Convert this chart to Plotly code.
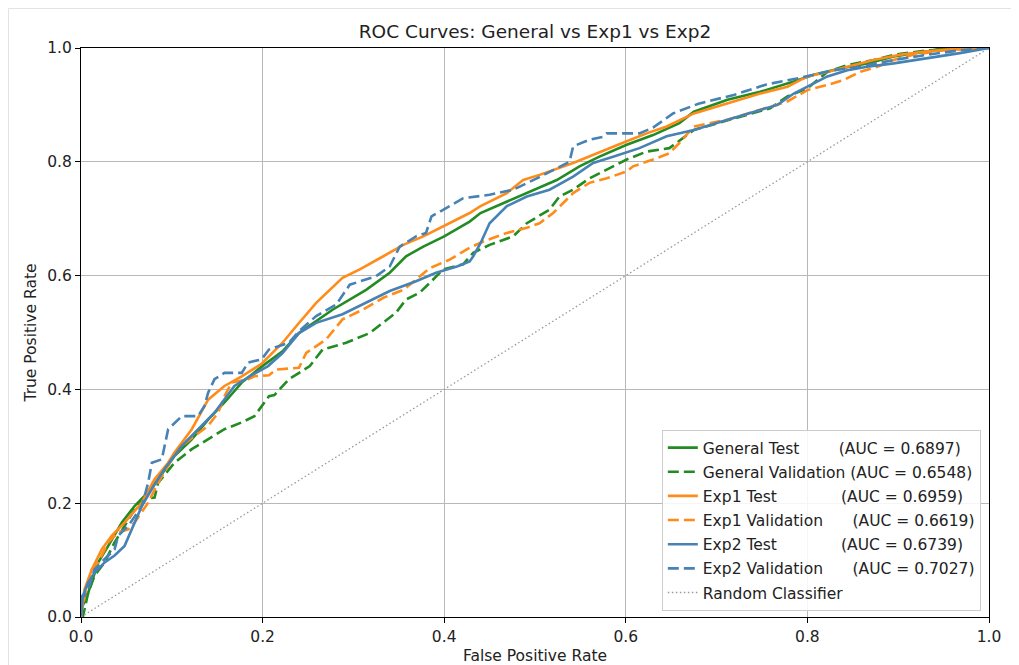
import plotly.graph_objects as go

# ---------------- data ----------------
gen_test_fpr = [0, 0.002, 0.008, 0.019, 0.03, 0.045, 0.059, 0.07, 0.085, 0.103, 0.122, 0.14, 0.158, 0.177,
                0.199, 0.222, 0.24, 0.277, 0.314, 0.34, 0.358, 0.377, 0.4, 0.428, 0.44, 0.469, 0.498, 0.524,
                0.549, 0.571, 0.601, 0.63, 0.659, 0.675, 0.712, 0.748, 0.785, 0.807, 0.836, 0.866, 0.895,
                0.932, 0.95, 1.0]
gen_test_tpr = [0, 0.02, 0.043, 0.096, 0.125, 0.166, 0.195, 0.213, 0.242, 0.283, 0.312, 0.347, 0.377, 0.412,
                0.44, 0.467, 0.499, 0.540, 0.575, 0.605, 0.634, 0.651, 0.669, 0.695, 0.71, 0.730, 0.751, 0.768,
                0.792, 0.809, 0.83, 0.847, 0.868, 0.888, 0.909, 0.923, 0.941, 0.953, 0.964, 0.973, 0.985,
                0.994, 1.0, 1.0]

gen_val_fpr = [0, 0.002, 0.008, 0.015, 0.026, 0.037, 0.048, 0.059, 0.067, 0.081, 0.085, 0.103, 0.122, 0.14,
               0.158, 0.177, 0.191, 0.207, 0.213, 0.229, 0.252, 0.266, 0.292, 0.318, 0.333, 0.347, 0.358, 0.373,
               0.384, 0.399, 0.421, 0.432, 0.45, 0.476, 0.491, 0.516, 0.527, 0.542, 0.56, 0.579, 0.601, 0.623,
               0.648, 0.675, 0.73, 0.759, 0.778, 0.8, 0.822, 0.844, 0.873, 0.895, 0.932, 1.0]
gen_val_tpr = [0, 0.0, 0.043, 0.073, 0.096, 0.131, 0.16, 0.189, 0.207, 0.21, 0.236, 0.271, 0.295, 0.312,
               0.330, 0.342, 0.353, 0.388, 0.39, 0.418, 0.441, 0.470, 0.482, 0.499, 0.517, 0.535, 0.558, 0.570,
               0.587, 0.611, 0.62, 0.64, 0.654, 0.669, 0.692, 0.716, 0.739, 0.751, 0.771, 0.786, 0.804, 0.818,
               0.824, 0.856, 0.88, 0.894, 0.915, 0.929, 0.958, 0.97, 0.979, 0.988, 0.996, 1.0]

exp1_test_fpr = [0, 0.004, 0.012, 0.023, 0.034, 0.048, 0.067, 0.081, 0.096, 0.103, 0.122, 0.14, 0.158, 0.177,
                 0.199, 0.222, 0.237, 0.259, 0.288, 0.307, 0.333, 0.355, 0.377, 0.4, 0.428, 0.44, 0.469, 0.487,
                 0.505, 0.542, 0.579, 0.601, 0.623, 0.645, 0.675, 0.712, 0.748, 0.778, 0.8, 0.822, 0.844, 0.873,
                 0.902, 0.932, 0.96, 1.0]
exp1_test_tpr = [0, 0.049, 0.084, 0.119, 0.143, 0.166, 0.201, 0.242, 0.271, 0.289, 0.330, 0.382, 0.406, 0.423,
                 0.445, 0.482, 0.511, 0.552, 0.596, 0.611, 0.634, 0.654, 0.669, 0.687, 0.71, 0.722, 0.745, 0.768,
                 0.777, 0.798, 0.821, 0.836, 0.85, 0.862, 0.885, 0.903, 0.92, 0.932, 0.95, 0.958, 0.967, 0.979,
                 0.988, 0.994, 0.998, 1.0]

exp1_val_fpr = [0, 0.001, 0.008, 0.012, 0.019, 0.03, 0.041, 0.052, 0.059, 0.067, 0.074, 0.085, 0.1, 0.111,
                0.125, 0.14, 0.151, 0.158, 0.166, 0.184, 0.191, 0.207, 0.215, 0.24, 0.248, 0.27, 0.288, 0.31,
                0.333, 0.355, 0.369, 0.384, 0.406, 0.428, 0.443, 0.469, 0.491, 0.505, 0.52, 0.542, 0.56, 0.579,
                0.601, 0.608, 0.63, 0.648, 0.659, 0.675, 0.712, 0.748, 0.778, 0.8, 0.822, 0.84, 0.858, 0.877,
                0.895, 0.917, 0.95, 1.0]
exp1_val_tpr = [0, 0.014, 0.061, 0.084, 0.096, 0.131, 0.149, 0.154, 0.166, 0.184, 0.201, 0.236, 0.277, 0.301,
                0.318, 0.336, 0.359, 0.388, 0.412, 0.418, 0.423, 0.425, 0.435, 0.438, 0.464, 0.488, 0.523, 0.540,
                0.561, 0.575, 0.593, 0.613, 0.628, 0.649, 0.66, 0.675, 0.684, 0.692, 0.71, 0.745, 0.763, 0.771,
                0.783, 0.792, 0.804, 0.815, 0.833, 0.862, 0.874, 0.891, 0.906, 0.926, 0.935, 0.944, 0.958, 0.967,
                0.979, 0.988, 0.996, 1.0]

exp2_test_fpr = [0, 0.002, 0.008, 0.015, 0.026, 0.037, 0.048, 0.059, 0.067, 0.078, 0.092, 0.111, 0.133, 0.147,
                 0.169, 0.188, 0.206, 0.222, 0.24, 0.259, 0.288, 0.314, 0.34, 0.369, 0.391, 0.414, 0.428, 0.432,
                 0.44, 0.45, 0.469, 0.491, 0.516, 0.542, 0.564, 0.586, 0.615, 0.645, 0.675, 0.712, 0.741, 0.767,
                 0.785, 0.8, 0.822, 0.844, 0.866, 0.895, 0.932, 0.968, 1.0]
exp2_test_tpr = [0, 0.037, 0.061, 0.078, 0.096, 0.108, 0.125, 0.166, 0.195, 0.225, 0.260, 0.301, 0.336, 0.359,
                 0.406, 0.425, 0.441, 0.464, 0.499, 0.517, 0.532, 0.552, 0.573, 0.590, 0.605, 0.616, 0.625, 0.634,
                 0.657, 0.692, 0.722, 0.739, 0.751, 0.774, 0.798, 0.809, 0.824, 0.845, 0.856, 0.874, 0.888, 0.9,
                 0.92, 0.932, 0.95, 0.961, 0.967, 0.973, 0.982, 0.991, 1.0]

exp2_val_fpr = [0, 0.001, 0.004, 0.008, 0.015, 0.026, 0.037, 0.041, 0.052, 0.067, 0.074, 0.078, 0.089, 0.092,
                0.096, 0.111, 0.129, 0.136, 0.14, 0.147, 0.158, 0.177, 0.184, 0.199, 0.207, 0.229, 0.24, 0.259,
                0.281, 0.296, 0.325, 0.34, 0.351, 0.369, 0.38, 0.386, 0.406, 0.421, 0.45, 0.476, 0.502, 0.52,
                0.538, 0.542, 0.56, 0.575, 0.579, 0.615, 0.63, 0.652, 0.68, 0.72, 0.755, 0.79, 0.814, 0.829,
                0.858, 0.895, 0.932, 0.968, 1.0]
exp2_val_tpr = [0, 0.037, 0.037, 0.049, 0.084, 0.102, 0.119, 0.143, 0.16, 0.195, 0.236, 0.271, 0.277, 0.30,
                0.33, 0.353, 0.353, 0.371, 0.394, 0.418, 0.429, 0.429, 0.447, 0.453, 0.47, 0.482, 0.502, 0.529,
                0.549, 0.584, 0.599, 0.616, 0.651, 0.669, 0.675, 0.704, 0.722, 0.736, 0.742, 0.751, 0.771, 0.786,
                0.80, 0.827, 0.839, 0.844, 0.85, 0.85, 0.86, 0.885, 0.902, 0.918, 0.936, 0.947, 0.956, 0.961,
                0.967, 0.979, 0.988, 0.996, 1.0]

random_x = [0, 1]
random_y = [0, 1]

series_names = ["General Test", "General Validation", "Exp1 Test", "Exp1 Validation", "Exp2 Test", "Exp2 Validation"]
series_auc = [0.6897, 0.6548, 0.6959, 0.6619, 0.6739, 0.7027]
label_pad = [8, 1, 13, 6, 13, 6]
tick_vals = [0.0, 0.2, 0.4, 0.6, 0.8, 1.0]
tick_text = ["0.0", "0.2", "0.4", "0.6", "0.8", "1.0"]

# ---------------- figure ----------------
series_x = [gen_test_fpr, gen_val_fpr, exp1_test_fpr, exp1_val_fpr, exp2_test_fpr, exp2_val_fpr]
series_y = [gen_test_tpr, gen_val_tpr, exp1_test_tpr, exp1_val_tpr, exp2_test_tpr, exp2_val_tpr]
colors = ["#228B22", "#228B22", "#FF8C1A", "#FF8C1A", "#4682B4", "#4682B4"]
dashes = ["solid", "11px,5px", "solid", "11px,5px", "solid", "11px,5px"]

fig = go.Figure()
for i in range(6):
    label = series_names[i] + "\u00a0" * label_pad[i] + "(AUC = %.4f)" % series_auc[i]
    fig.add_trace(go.Scatter(
        x=series_x[i], y=series_y[i], mode="lines", name=label, legendgroup=str(i),
        line=dict(color=colors[i], width=2.6, dash=dashes[i]),
    ))
fig.add_trace(go.Scatter(
    x=random_x, y=random_y, mode="lines", name="Random Classifier", legendgroup="r",
    line=dict(color="#9a9a9a", width=1.3, dash="1.5px,2.5px"),
))

font_family = "DejaVu Sans, Arial, sans-serif"
FS = 15.5
axis_common = dict(
    range=[0, 1], tickvals=tick_vals, ticktext=tick_text, automargin=False,
    showline=True, linecolor="black", linewidth=1, mirror=True,
    ticks="outside", ticklen=5, tickcolor="black", tickwidth=1,
    showgrid=True, gridcolor="#b8b8b8", gridwidth=1, zeroline=False,
    tickfont=dict(size=FS, color="#222222", family=font_family),
)

W, H = 1003, 657
fig.update_layout(
    width=W, height=H,
    margin=dict(l=73, r=22, t=40, b=48, pad=0),
    paper_bgcolor="white", plot_bgcolor="white",
    font=dict(family=font_family, size=FS, color="#222222"),
    title=dict(text="ROC Curves: General vs Exp1 vs Exp2", x=0.5, xref="paper", xanchor="center",
               y=1 - 24 / H, yref="container", yanchor="middle",
               font=dict(size=18.5, color="#222222", family=font_family)),
    xaxis=dict(axis_common, title=dict(text="False Positive Rate", standoff=14,
                                       font=dict(size=FS, family=font_family))),
    yaxis=dict(axis_common, title=dict(text="True Positive Rate", standoff=6,
                                       font=dict(size=FS, family=font_family))),
    legend=dict(x=0.991, y=0.0105, xanchor="right", yanchor="bottom",
                bgcolor="rgba(255,255,255,0.85)", bordercolor="#cccccc", borderwidth=1,
                font=dict(size=FS, color="#222222", family=font_family),
                tracegroupgap=1, traceorder="grouped"),
    showlegend=True,
    shapes=[dict(type="rect", xref="paper", yref="paper",
                 x0=-72.5 / 908, y0=(609 - 0.5) / 569, x1=1.06, y1=-0.12,
                 line=dict(color="#e3e3e3", width=1), layer="below")],
)

fig.write_html("out.html")
